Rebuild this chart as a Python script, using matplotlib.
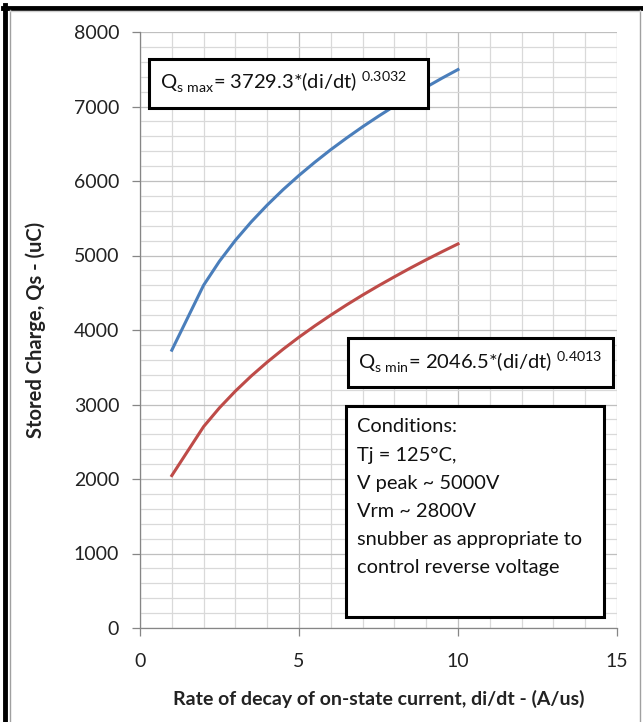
import numpy as np
import matplotlib.pyplot as plt
from matplotlib.patches import Rectangle
from matplotlib.lines import Line2D

plt.rcParams['font.family'] = ['Lato', 'DejaVu Sans']
plt.rcParams['mathtext.fontset'] = 'custom'
plt.rcParams['mathtext.rm'] = 'Lato'

# data
didt = [1, 2, 2.5, 3, 3.5, 4, 4.5, 5, 5.5, 6, 6.5, 7, 7.5, 8, 8.5, 9, 9.5, 10]
qs_max = [3729, 4601, 4924, 5204, 5452, 5677, 5884, 6075, 6253, 6421,
          6578, 6728, 6870, 7006, 7136, 7260, 7381, 7496]
qs_min = [2046, 2703, 2956, 3180, 3383, 3569, 3742, 3904, 4056, 4200,
          4338, 4469, 4594, 4714, 4831, 4943, 5051, 5156]

x_ticks = [0, 5, 10, 15]
y_ticks = [0, 1000, 2000, 3000, 4000, 5000, 6000, 7000, 8000]

W, H = 643, 722
fig = plt.figure(figsize=(W / 100, H / 100), dpi=100)

# plot area in pixels
L, R, T, B = 140, 617, 32, 628
ax = fig.add_axes([L / W, 1 - B / H, (R - L) / W, (B - T) / H])

ax.plot(didt, qs_max, color='#4a7ebb', lw=2.2, zorder=3)
ax.plot(didt, qs_min, color='#be4b48', lw=2.2, zorder=3)

ax.set_xlim(0, 15)
ax.set_ylim(0, 8000)
ax.set_xticks(x_ticks)
ax.set_yticks(y_ticks)
ax.set_xticks(np.arange(0, 16, 1), minor=True)
ax.set_yticks(np.arange(0, 8001, 200), minor=True)
ax.grid(which='minor', color='#d9d9d9', lw=0.9)
ax.grid(which='major', color='#bfbfbf', lw=0.9)
ax.set_axisbelow(True)

for s in ['top', 'right']:
    ax.spines[s].set_visible(False)
for s in ['left', 'bottom']:
    ax.spines[s].set_color('#868686')
    ax.spines[s].set_linewidth(0.9)

ax.tick_params(which='major', length=6, width=0.9, color='#868686',
               labelsize=14, labelcolor='#222222')
ax.tick_params(axis='x', which='major', pad=12)
ax.tick_params(axis='y', which='major', pad=9)
ax.tick_params(which='minor', length=0)

ax.set_xlabel('Rate of decay of on-state current, di/dt - (A/us)',
              fontsize=14, fontweight='bold', color='#222222')
ax.set_ylabel('Stored Charge, Qs - (uC)',
              fontsize=14.5, fontweight='bold', color='#222222')
ax.xaxis.set_label_coords(0.5, (B - 690) / (B - T))
ax.yaxis.set_label_coords((46 - L) / (R - L), 0.5)


def box(x0, y0, x1, y1):
    fig.add_artist(Rectangle((x0 / W, 1 - y1 / H), (x1 - x0) / W, (y1 - y0) / H,
                             transform=fig.transFigure, facecolor='white',
                             edgecolor='black', lw=2.2, zorder=5))


def label(x, y, s, size=14.5, **kw):
    fig.text(x / W, 1 - y / H, s, fontsize=size, color='#111111',
             va='center', ha='left', zorder=6, **kw)


box(149, 59, 428, 108)
label(160, 82, r'Q$_{\mathregular{s\ max}}$= 3729.3*(di/dt) $^{\mathregular{0.3032}}$')

box(348, 338, 613, 387)
label(358, 362, r'Q$_{\mathregular{s\ min}}$= 2046.5*(di/dt) $^{\mathregular{0.4013}}$')

box(346, 406, 604, 617)
cond = ['Conditions:', 'Tj = 125°C,', 'V peak ~ 5000V', 'Vrm ~ 2800V',
        'snubber as appropriate to', 'control reverse voltage']
for i, line in enumerate(cond):
    label(357, 427 + i * 28.2, line, size=14.4)

# outer frame
fig.add_artist(Line2D([5 / W, 5 / W], [0, 1 - 5 / H], color='black', lw=3.5))
fig.add_artist(Line2D([3 / W, 1], [1 - 7.5 / H, 1 - 7.5 / H], color='black', lw=3.5))
fig.add_artist(Line2D([10 / W, 10 / W], [0, 1 - 10 / H], color='#a0a0a0', lw=1))
fig.add_artist(Line2D([640 / W, 640 / W], [0, 1 - 10 / H], color='#a0a0a0', lw=1))
fig.add_artist(Line2D([10 / W, 640 / W], [1 - 10.5 / H, 1 - 10.5 / H], color='#d0d0d0', lw=1))

fig.savefig('out.png', dpi=100)
